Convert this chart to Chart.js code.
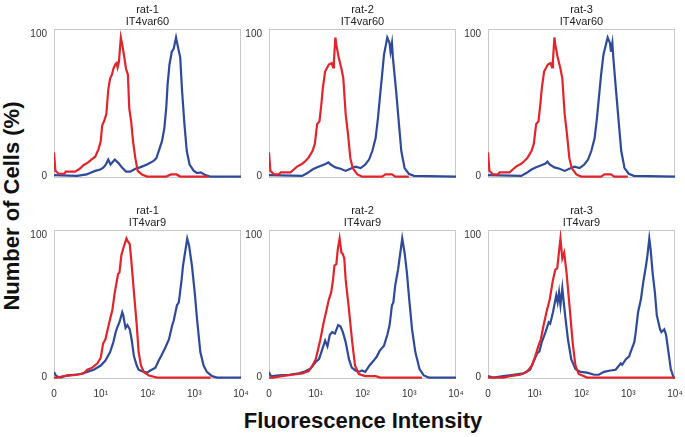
<!DOCTYPE html>
<html>
<head>
<meta charset="utf-8">
<script src="https://cdn.jsdelivr.net/npm/chart.js@4.4.0/dist/chart.umd.min.js"></script>
<style>
  body { margin: 0; background: #fff; width: 685px; height: 437px; position: relative; overflow: hidden;
         font-family: "Liberation Sans", Arial, sans-serif; }
  canvas { position: absolute; }
  .ptitle { position: absolute; width: 187px; text-align: center; font-size: 11px; line-height: 12px; color: #222; }
  #ylab { position: absolute; left: -138px; top: 193px; width: 300px; height: 26px; line-height: 26px;
          text-align: center; font-weight: bold; font-size: 22px; color: #111; transform: rotate(-90deg); }
  #xlab { position: absolute; left: 163px; top: 409px; width: 400px; line-height: 24px;
          text-align: center; font-weight: bold; font-size: 22px; color: #111; }
</style>
</head>
<body>
<div id="ylab">Number of Cells (%)</div>
<div id="xlab">Fluorescence Intensity</div>
<script>
// x positions are in decades (0 = left edge labelled "0", 4 = 10^4)
const xTickValues = [0, 1, 2, 3, 4];
const xTickLabels = ['0', '10\u00b9', '10\u00b2', '10\u00b3', '10\u2074'];
const yTickValues = [0, 100];
const rats = ['rat-1', 'rat-2', 'rat-3'];
const constructs = ['IT4var60', 'IT4var9'];

// rat-1 IT4var60
const r1X = [0, 0.03, 0.1, 0.22, 0.25, 0.45, 0.55, 0.63, 0.73, 0.8, 0.88, 0.95, 1.0, 1.03, 1.07, 1.12, 1.16, 1.2, 1.24, 1.27, 1.31, 1.34, 1.36, 1.39, 1.41, 1.43, 1.46, 1.5, 1.54, 1.58, 1.61, 1.65, 1.69, 1.74, 1.79, 1.88, 1.99, 2.4, 2.5, 2.62, 2.7, 3.3];
const r1Y = [17, 4, 2, 2, 3.5, 3.5, 5.5, 8, 10, 12, 14, 19, 25, 36, 39, 44, 61, 69, 72, 76, 79, 80, 77, 81, 90, 98, 93, 85, 76, 72, 48, 39, 25, 13, 4, 1.5, 0, 0, 1.5, 1.5, 0, 0];
const b1X = [0, 0.49, 0.7, 0.77, 0.88, 0.99, 1.06, 1.11, 1.16, 1.21, 1.3, 1.38, 1.45, 1.54, 1.63, 1.74, 1.84, 1.99, 2.13, 2.19, 2.24, 2.31, 2.36, 2.4, 2.43, 2.47, 2.52, 2.56, 2.61, 2.66, 2.7, 2.74, 2.79, 2.84, 2.9, 2.99, 3.06, 3.14, 3.24, 3.34, 4];
const b1Y = [1, 0.5, 1.5, 2.5, 4, 5, 6.5, 8.5, 12, 8.5, 12, 9.5, 6.5, 3.5, 3.5, 5.5, 6.5, 8.5, 11, 13, 18, 25, 34, 48, 65, 79, 88, 90, 98, 90, 84, 60, 37, 18, 8.5, 4, 2.5, 3, 1, 0, 0];

// rat-2 IT4var60
const r2X = [0, 0.03, 0.11, 0.21, 0.25, 0.46, 0.53, 0.6, 0.71, 0.78, 0.85, 0.93, 0.98, 1.03, 1.08, 1.12, 1.15, 1.2, 1.28, 1.34, 1.37, 1.39, 1.42, 1.44, 1.49, 1.55, 1.59, 1.64, 1.69, 1.74, 1.79, 1.89, 1.99, 2.42, 2.49, 2.63, 2.7, 2.99];
const r2Y = [17, 4, 1.5, 1.5, 3, 3, 5, 7, 9, 11, 13.5, 18, 23, 37, 39, 51, 62, 74, 79, 80, 77, 82, 98, 93, 84, 76, 69, 44, 30, 13, 6, 1.5, 0, 0, 1.5, 1.5, 0, 0];
const b2X = [0, 0.71, 0.82, 0.93, 1.03, 1.14, 1.22, 1.27, 1.32, 1.42, 1.53, 1.64, 1.74, 1.85, 1.96, 2.06, 2.14, 2.21, 2.28, 2.33, 2.37, 2.42, 2.46, 2.53, 2.58, 2.6, 2.63, 2.65, 2.72, 2.78, 2.83, 2.9, 2.99, 3.1, 4];
const b2Y = [1, 0.5, 2.5, 5, 6.5, 8, 9, 10, 8.5, 6.5, 5.5, 4, 5.5, 7, 6, 8.5, 12, 18, 27, 41, 55, 72, 86, 98, 94, 88, 94, 84, 60, 37, 18, 6, 2, 0.5, 0];

// rat-3 IT4var60
const r3X = [0, 0.03, 0.11, 0.21, 0.25, 0.46, 0.53, 0.6, 0.71, 0.78, 0.85, 0.93, 0.98, 1.03, 1.08, 1.12, 1.15, 1.2, 1.28, 1.34, 1.37, 1.39, 1.42, 1.44, 1.49, 1.55, 1.59, 1.64, 1.69, 1.74, 1.79, 1.89, 1.99, 2.42, 2.49, 2.63, 2.7, 2.99];
const r3Y = [17, 4, 1.5, 1.5, 3, 3, 5, 7, 9, 11, 13.5, 18, 23, 37, 39, 51, 62, 74, 79, 80, 77, 82, 98, 93, 84, 76, 69, 44, 30, 13, 6, 1.5, 0, 0, 1.5, 1.5, 0, 0];
const b3X = [0, 0.71, 0.82, 0.93, 1.03, 1.14, 1.22, 1.27, 1.32, 1.42, 1.53, 1.64, 1.74, 1.85, 1.96, 2.06, 2.14, 2.21, 2.28, 2.33, 2.37, 2.42, 2.47, 2.56, 2.61, 2.63, 2.66, 2.68, 2.74, 2.8, 2.85, 2.92, 3.01, 3.12, 4];
const b3Y = [1, 0.5, 2.5, 5, 6.5, 8, 9, 10.5, 8.5, 6.5, 5.5, 4, 5.5, 7, 6, 8.5, 12, 18, 27, 41, 55, 72, 86, 98, 94, 88, 94, 84, 60, 37, 18, 6, 2, 0.5, 0];

// rat-1 IT4var9
const r4X = [0, 0.07, 0.21, 0.36, 0.5, 0.64, 0.71, 0.82, 0.93, 1.0, 1.05, 1.1, 1.17, 1.25, 1.3, 1.37, 1.4, 1.44, 1.49, 1.55, 1.58, 1.62, 1.65, 1.71, 1.77, 1.81, 1.86, 1.92, 2.03, 2.21, 3.35];
const r4Y = [0, 0, 1, 1.5, 2, 3, 5.5, 7, 10, 14, 24, 27, 37, 48, 60, 73, 74, 86, 92, 98, 96, 94, 84, 60, 37, 18, 8.5, 4, 1.5, 0, 0];
const b4X = [0, 0.03, 0.06, 0.14, 0.28, 0.43, 0.57, 0.71, 0.85, 1.0, 1.1, 1.2, 1.27, 1.32, 1.35, 1.4, 1.46, 1.48, 1.53, 1.57, 1.62, 1.66, 1.71, 1.77, 1.81, 1.92, 1.99, 2.06, 2.17, 2.24, 2.29, 2.38, 2.46, 2.53, 2.56, 2.63, 2.67, 2.73, 2.76, 2.85, 2.89, 2.95, 3.01, 3.06, 3.13, 3.2, 3.27, 3.38, 3.49, 4];
const b4Y = [4, 2, 1, 0, 1.5, 2, 2.5, 4, 5.5, 8.5, 12, 18, 25, 32, 35, 39, 46, 44, 35, 37, 34, 27, 15, 8.5, 5.5, 4, 3.5, 5, 7, 12, 15, 21, 27, 37, 40, 51, 53, 69, 79, 98, 93, 79, 60, 41, 18, 8.5, 4, 1, 0, 0];

// rat-2 IT4var9
const r5X = [0, 0.07, 0.28, 0.5, 0.71, 0.85, 0.93, 1.0, 1.05, 1.1, 1.17, 1.22, 1.28, 1.33, 1.37, 1.4, 1.44, 1.47, 1.51, 1.55, 1.58, 1.61, 1.64, 1.71, 1.78, 1.84, 1.92, 2.06, 2.28, 2.38, 3.27];
const r5Y = [0, 0, 1, 2, 3, 4.5, 8.5, 13, 20, 27, 39, 46, 55, 60, 69, 79, 80, 90, 98, 88, 87, 84, 69, 48, 25, 8.5, 2.5, 1, 1, 0, 0];
const b5X = [0, 0.03, 0.07, 0.21, 0.43, 0.64, 0.78, 0.89, 1.0, 1.07, 1.12, 1.2, 1.25, 1.3, 1.35, 1.41, 1.48, 1.53, 1.58, 1.64, 1.71, 1.77, 1.85, 1.92, 1.99, 2.06, 2.15, 2.24, 2.31, 2.37, 2.46, 2.53, 2.58, 2.63, 2.66, 2.7, 2.76, 2.85, 2.9, 2.95, 3.0, 3.06, 3.13, 3.22, 3.31, 3.42, 4];
const b5Y = [4, 1.5, 1, 1.5, 2, 3, 4.5, 6.5, 11, 13, 18, 26, 22, 30, 32, 31, 37, 36, 32, 25, 13, 7, 5, 4, 5, 4, 8.5, 12, 15, 19, 22.5, 30, 37, 51, 53, 65, 76, 98, 88, 74, 55, 34, 18, 6, 1.5, 0, 0];

// rat-3 IT4var9
const r6X = [0, 0.33, 0.47, 0.69, 0.83, 0.94, 1.01, 1.08, 1.13, 1.19, 1.25, 1.32, 1.39, 1.44, 1.48, 1.55, 1.59, 1.63, 1.68, 1.75, 1.81, 1.87, 1.94, 2.12, 4];
const r6Y = [0, 0, 1, 2, 4, 8.5, 15, 22.5, 27, 37, 46, 55, 69, 76, 77, 98, 84, 88, 74, 48, 25, 8.5, 2.5, 0, 0];
const b6X = [0, 0.11, 0.33, 0.54, 0.76, 0.9, 0.97, 1.05, 1.1, 1.15, 1.23, 1.3, 1.33, 1.39, 1.46, 1.49, 1.52, 1.55, 1.59, 1.62, 1.66, 1.71, 1.78, 1.87, 1.98, 2.12, 2.27, 2.37, 2.48, 2.62, 2.73, 2.84, 2.87, 2.95, 3.02, 3.05, 3.13, 3.16, 3.21, 3.27, 3.32, 3.38, 3.41, 3.45, 3.48, 3.52, 3.57, 3.61, 3.68, 3.71, 3.77, 3.81, 3.86, 3.91, 3.97, 4];
const b6Y = [1, 0, 1, 2, 3, 5.5, 11, 17, 18.5, 25, 32, 39, 38, 46, 58, 53, 60, 51, 63, 53, 41, 27, 13, 6, 4, 3.5, 2, 2, 4, 5, 5.5, 10, 9, 13, 15, 18, 25, 32, 46, 55, 67, 79, 86, 98, 90, 74, 60, 44, 34, 32, 34, 30, 18, 6, 0, 0];

const panels = [
  { row: 0, col: 0, title: [rats[0], constructs[0]], red: [r1X, r1Y], blue: [b1X, b1Y] },
  { row: 0, col: 1, title: [rats[1], constructs[0]], red: [r2X, r2Y], blue: [b2X, b2Y] },
  { row: 0, col: 2, title: [rats[2], constructs[0]], red: [r3X, r3Y], blue: [b3X, b3Y] },
  { row: 1, col: 0, title: [rats[0], constructs[1]], red: [r4X, r4Y], blue: [b4X, b4Y] },
  { row: 1, col: 1, title: [rats[1], constructs[1]], red: [r5X, r5Y], blue: [b5X, b5Y] },
  { row: 1, col: 2, title: [rats[2], constructs[1]], red: [r6X, r6Y], blue: [b6X, b6Y] }
];

const boxLeft = [54, 269, 488];
const boxTop = [29, 230];
const boxW = 187, boxH = 149;
const yAxisW = 44, padTop = 4, padRight = 14;

const frame = {
  id: 'frame',
  beforeDatasetsDraw(chart) {
    const a = chart.chartArea, c = chart.ctx;
    c.save();
    c.strokeStyle = '#c9c9c9';
    c.lineWidth = 1;
    c.strokeRect(a.left + 0.5, a.top + 0.5, a.right - a.left - 1, a.bottom - a.top - 1);
    c.restore();
  }
};

function toPoints(xs, ys) {
  return xs.map((x, i) => ({ x: x, y: ys[i] }));
}

panels.forEach(p => {
  const bottomRow = p.row === 1;
  const xAxisH = bottomRow ? 24 : 0;
  const cv = document.createElement('canvas');
  const w = yAxisW + boxW + padRight;
  const h = padTop + boxH + (bottomRow ? xAxisH : 4);
  cv.width = w; cv.height = h;
  cv.style.left = (boxLeft[p.col] - yAxisW) + 'px';
  cv.style.top = (boxTop[p.row] - padTop) + 'px';
  document.body.appendChild(cv);

  const t = document.createElement('div');
  t.className = 'ptitle';
  t.style.left = boxLeft[p.col] + 'px';
  t.style.top = (boxTop[p.row] - 26) + 'px';
  t.innerHTML = p.title[0] + '<br>' + p.title[1];
  document.body.appendChild(t);

  new Chart(cv.getContext('2d'), {
    type: 'line',
    data: {
      datasets: [
        { data: toPoints(p.red[0], p.red[1]), borderColor: '#e3242b', borderWidth: 2.2, pointRadius: 0, tension: 0, fill: false },
        { data: toPoints(p.blue[0], p.blue[1]), borderColor: '#2e4a9b', borderWidth: 2.2, pointRadius: 0, tension: 0, fill: false }
      ]
    },
    options: {
      responsive: false,
      animation: false,
      devicePixelRatio: 1,
      layout: { padding: { left: 0, top: padTop, right: padRight, bottom: bottomRow ? 0 : 4 } },
      plugins: { legend: { display: false }, tooltip: { enabled: false }, title: { display: false } },
      scales: {
        x: {
          type: 'linear', min: 0, max: 4,
          grid: { display: false, drawTicks: false }, border: { display: false },
          afterBuildTicks: s => { s.ticks = xTickValues.map(v => ({ value: v })); },
          afterFit: s => { s.height = xAxisH; s.paddingLeft = 0; s.paddingRight = 0; },
          ticks: {
            display: bottomRow, autoSkip: false, maxRotation: 0, padding: 9,
            color: '#333', font: { family: '"Liberation Sans", Arial, sans-serif', size: 10 },
            callback: v => xTickLabels[xTickValues.indexOf(v)]
          }
        },
        y: {
          min: -1, max: 104,
          grid: { display: false, drawTicks: false }, border: { display: false },
          afterBuildTicks: s => { s.ticks = yTickValues.map(v => ({ value: v })); },
          afterFit: s => { s.width = yAxisW; s.paddingTop = 0; s.paddingBottom = 0; },
          ticks: {
            padding: 7, color: '#333',
            font: { family: '"Liberation Sans", Arial, sans-serif', size: 10 }
          }
        }
      }
    },
    plugins: [frame]
  });
});
</script>
</body>
</html>
